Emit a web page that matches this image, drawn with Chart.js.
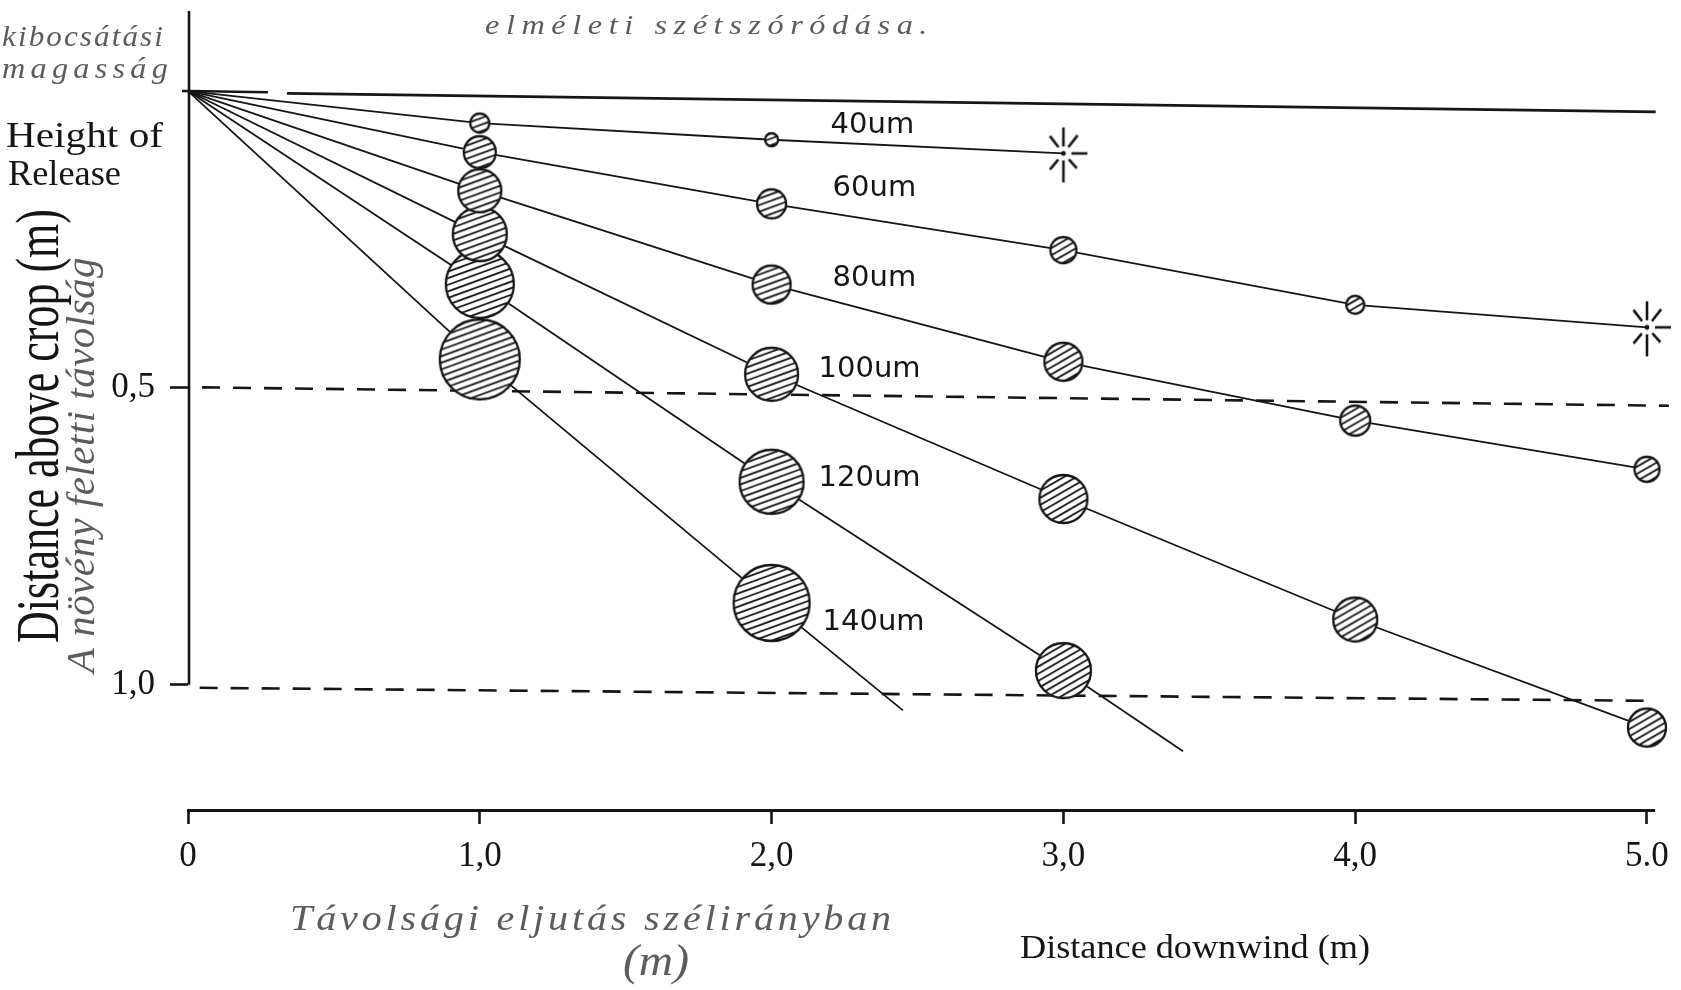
<!DOCTYPE html>
<html>
<head>
<meta charset="utf-8">
<script src="https://cdn.jsdelivr.net/npm/chart.js@4.4.0/dist/chart.umd.min.js"></script>
<style>
html,body{margin:0;padding:0;background:#fff;}
#wrap{width:1681px;height:990px;position:relative;}
canvas{display:block;}
</style>
</head>
<body>
<div id="wrap"><canvas id="c" width="1681" height="990"></canvas></div>
<script>
// ---------------- data ----------------
const xTickValues = [0, 1, 2, 3, 4, 5];
const xTickLabels = ['0', '1,0', '2,0', '3,0', '4,0', '5.0'];
const yTickValues = [0.5, 1.0];
const yTickLabels = ['0,5', '1,0'];

const seriesNames = ['40um', '60um', '80um', '100um', '120um', '140um'];
const dist40 = [0, 1, 2, 3];
const drop40 = [0, 0.054, 0.082, 0.105];
const dist60 = [0, 1, 2, 3, 4, 5];
const drop60 = [0, 0.103, 0.190, 0.268, 0.360, 0.398];
const dist80 = [0, 1, 2, 3, 4, 5];
const drop80 = [0, 0.168, 0.326, 0.456, 0.555, 0.637];
const dist100 = [0, 1, 2, 3, 4, 5];
const drop100 = [0, 0.241, 0.477, 0.687, 0.890, 1.072];
const dist120 = [0, 1, 2, 3, 3.41];
const drop120 = [0, 0.325, 0.658, 0.976, 1.112];
const dist140 = [0, 1, 2, 2.45];
const drop140 = [0, 0.452, 0.862, 1.043];

// reference lines (release height, 0,5 m and 1,0 m levels)
const releaseDist = [0, 0.274, 0.30, 0.339, 5.03];
const releaseLevel = [0, 0.002, null, 0.004, 0.035];
const midDist = [0.048, 5.075];
const midLevel = [0.499, 0.530];
const cropDist = [0.04, 5.03];
const cropLevel = [1.005, 1.027];

// ---------------- styles ----------------
const markerKinds = {
  '40um':  ['none', 'ball', 'ball', 'star'],
  '60um':  ['none', 'ball', 'ball', 'ball', 'ball', 'star'],
  '80um':  ['none', 'ball', 'ball', 'ball', 'ball', 'ball'],
  '100um': ['none', 'ball', 'ball', 'ball', 'ball', 'ball'],
  '120um': ['none', 'ball', 'ball', 'ball', 'none'],
  '140um': ['none', 'ball', 'ball', 'none']
};
const markerDiam = {
  '40um':  [0, 21, 15, 0],
  '60um':  [0, 34, 31, 28, 20, 0],
  '80um':  [0, 45, 40, 40, 32, 27],
  '100um': [0, 56, 55, 50, 46, 40],
  '120um': [0, 70, 66, 57, 0],
  '140um': [0, 82, 78, 0]
};
const labelOffset = {
  '40um': [59, -14], '60um': [61, -15], '80um': [61, -6],
  '100um': [47, -5], '120um': [47, -3], '140um': [51, 20]
};
const INK = '#151515';
const HAND = '#5c5c5c';

const seriesX = [dist40, dist60, dist80, dist100, dist120, dist140];
const seriesY = [drop40, drop60, drop80, drop100, drop120, drop140];

function pts(xs, ys) { return xs.map((x, i) => ({ x: x, y: ys[i] })); }

function makeBall(d, ang) {
  const pad = 3, s = Math.ceil(d + pad * 2);
  const c = document.createElement('canvas');
  c.width = s; c.height = s;
  const g = c.getContext('2d');
  const r = d / 2, cx = s / 2, cy = s / 2;
  g.beginPath(); g.arc(cx, cy, r, 0, Math.PI * 2); g.fillStyle = '#fff'; g.fill();
  g.save(); g.clip();
  g.translate(cx, cy); g.rotate(-ang * Math.PI / 180);
  g.strokeStyle = INK; g.lineWidth = 1.8;
  const step = 6.2;
  for (let yy = -r - step; yy <= r + step; yy += step) {
    g.beginPath(); g.moveTo(-r - 6, yy); g.lineTo(r + 6, yy); g.stroke();
  }
  g.restore();
  g.beginPath(); g.arc(cx, cy, r - 1, 0, Math.PI * 2);
  g.lineWidth = 2.3; g.strokeStyle = INK; g.stroke();
  return c;
}
function makeStar() {
  const s = 64, c = document.createElement('canvas');
  c.width = s; c.height = s;
  const g = c.getContext('2d');
  g.translate(s / 2, s / 2);
  g.strokeStyle = INK; g.lineWidth = 2.6; g.lineCap = 'butt';
  const rays = [[-90, 7, 26], [-52, 8, 23], [0, 8, 24], [48, 8, 20], [90, 7, 29], [130, 8, 21], [-128, 8, 22]];
  rays.forEach(([a, r1, r2]) => {
    const t = a * Math.PI / 180;
    g.beginPath(); g.moveTo(Math.cos(t) * r1, Math.sin(t) * r1); g.lineTo(Math.cos(t) * r2, Math.sin(t) * r2); g.stroke();
  });
  g.beginPath(); g.arc(0, 0, 2.4, 0, Math.PI * 2); g.fillStyle = INK; g.fill();
  return c;
}
const starImg = makeStar();

const datasets = [];
// reference lines
datasets.push({ data: pts(releaseDist, releaseLevel), showLine: true, spanGaps: false, borderColor: INK, borderWidth: 2.6, pointRadius: 0, order: 5, clip: false });
datasets.push({ data: pts(midDist, midLevel), showLine: true, borderColor: INK, borderWidth: 2.6, borderDash: [18, 13], pointRadius: 0, order: 5, clip: false });
datasets.push({ data: pts(cropDist, cropLevel), showLine: true, borderColor: INK, borderWidth: 2.6, borderDash: [18, 13], pointRadius: 0, order: 5, clip: false });

// trajectories
seriesNames.forEach((name, k) => {
  datasets.push({ label: name, data: pts(seriesX[k], seriesY[k]), showLine: true, borderColor: INK, borderWidth: 1.8, pointRadius: 0, order: 4, clip: false });
});
// droplet markers
seriesNames.forEach((name, k) => {
  const kinds = markerKinds[name];
  const data = [], styles = [];
  seriesX[k].forEach((x, i) => {
    if (kinds[i] === 'none') return;
    data.push({ x: x, y: seriesY[k][i] });
    styles.push(kinds[i] === 'star' ? starImg : makeBall(markerDiam[name][i], x <= 2 ? 20 : 30));
  });
  datasets.push({ label: name + ' markers', data: data, showLine: false, pointStyle: styles, pointRadius: 4, order: 1 + k * 0.01, clip: false });
});

function fitText(ctx, text, x, y, w, font, color, spacing) {
  ctx.save();
  ctx.font = font; ctx.fillStyle = color; ctx.textBaseline = 'alphabetic'; ctx.textAlign = 'left';
  let m = ctx.measureText(text).width;
  if (spacing && ('letterSpacing' in ctx)) {
    const ls = Math.max(0, (w - m) / Math.max(1, text.length - 1) * 0.6);
    ctx.letterSpacing = ls.toFixed(2) + 'px';
    m = ctx.measureText(text).width;
  }
  ctx.translate(x, y); ctx.scale(w / m, 1);
  ctx.fillText(text, 0, 0);
  ctx.restore();
}
function fitTextUp(ctx, text, baseX, yStart, yEnd, font, color, spacing) {
  ctx.save();
  ctx.font = font; ctx.fillStyle = color; ctx.textBaseline = 'alphabetic'; ctx.textAlign = 'left';
  const w = yStart - yEnd;
  let m = ctx.measureText(text).width;
  if (spacing && ('letterSpacing' in ctx)) {
    const ls = Math.max(0, (w - m) / Math.max(1, text.length - 1) * 0.6);
    ctx.letterSpacing = ls.toFixed(2) + 'px';
    m = ctx.measureText(text).width;
  }
  ctx.translate(baseX, yStart); ctx.rotate(-Math.PI / 2); ctx.scale(w / m, 1);
  ctx.fillText(text, 0, 0);
  ctx.restore();
}

const annot = {
  id: 'annot',
  afterDatasetsDraw(chart) {
    const { ctx } = chart;
    const xs = chart.scales.x, ys = chart.scales.y;
    ctx.save();
    // vertical axis line, from the top of the figure down to the 1,0 level
    ctx.strokeStyle = INK; ctx.lineWidth = 2.6;
    const ax = xs.getPixelForValue(0) + 1;
    ctx.beginPath(); ctx.moveTo(ax, ys.getPixelForValue(-0.135)); ctx.lineTo(ax, ys.getPixelForValue(1.0)); ctx.stroke();
    // short stub at the release height
    ctx.beginPath(); ctx.moveTo(ax - 7, ys.getPixelForValue(0)); ctx.lineTo(ax, ys.getPixelForValue(0)); ctx.stroke();
    // size labels next to the 2,0 m droplets
    ctx.font = '29px "DejaVu Sans"'; ctx.fillStyle = INK; ctx.textBaseline = 'middle'; ctx.textAlign = 'left';
    seriesNames.forEach((name, k) => {
      const off = labelOffset[name];
      const px = xs.getPixelForValue(2) + off[0];
      const py = ys.getPixelForValue(seriesY[k][2]) + off[1];
      ctx.fillText(name, px, py);
    });
    ctx.restore();

    // printed texts
    fitText(ctx, 'Height of', 6, 147, 157, '35px "Liberation Serif"', INK);
    fitText(ctx, 'Release', 8, 185, 113, '35px "Liberation Serif"', INK);
    fitTextUp(ctx, 'Distance above crop (m)', 58, 643, 209, '62px "Liberation Serif"', INK);
    fitText(ctx, 'Distance downwind (m)', 1020, 958, 350, '34px "Liberation Serif"', INK);

    // handwritten Hungarian notes
    fitText(ctx, 'elméleti szétszóródása.', 485, 34, 449, 'italic 27px "Liberation Serif"', HAND, true);
    fitText(ctx, 'kibocsátási', 2, 46, 163, 'italic 29px "Liberation Serif"', HAND, true);
    fitText(ctx, 'magasság', 2, 78, 171, 'italic 29px "Liberation Serif"', HAND, true);
    fitTextUp(ctx, 'A növény feletti távolság', 94, 673, 257, 'italic 40px "Liberation Serif"', HAND, true);
    fitText(ctx, 'Távolsági eljutás szélirányban', 290, 930, 605, 'italic 36px "Liberation Serif"', HAND, true);
    fitText(ctx, '(m)', 623, 975, 66, 'italic 44px "Liberation Serif"', HAND);
  }
};

const ctx = document.getElementById('c').getContext('2d');
new Chart(ctx, {
  type: 'scatter',
  data: { datasets: datasets },
  options: {
    responsive: false,
    animation: false,
    devicePixelRatio: 1,
    events: [],
    layout: { autoPadding: false, padding: { top: 8, right: 25, left: 0, bottom: 0 } },
    plugins: { legend: { display: false }, tooltip: { enabled: false } },
    scales: {
      x: {
        type: 'linear', min: 0, max: 5.027,
        afterFit: s => { s.height = 180; },
        afterBuildTicks: s => { s.ticks = xTickValues.map(v => ({ value: v })); },
        ticks: {
          callback: (v, i) => xTickLabels[i],
          font: { family: '"Liberation Serif"', size: 35 },
          color: INK, padding: 12, maxRotation: 0, autoSkip: false
        },
        grid: { drawOnChartArea: false, drawTicks: true, tickLength: 14, tickColor: INK, tickWidth: 2.6 },
        border: { display: true, color: INK, width: 3 }
      },
      y: {
        type: 'linear', reverse: true, min: -0.0927, max: 1.2108,
        afterFit: s => { s.width = 188; },
        afterBuildTicks: s => { s.ticks = yTickValues.map(v => ({ value: v })); },
        ticks: {
          callback: (v, i) => yTickLabels[i],
          font: { family: '"Liberation Serif"', size: 35 },
          color: INK, padding: 15
        },
        grid: { drawOnChartArea: false, drawTicks: true, tickLength: 18, tickColor: INK, tickWidth: 2.6 },
        border: { display: false }
      }
    }
  },
  plugins: [annot]
});
</script>
</body>
</html>
